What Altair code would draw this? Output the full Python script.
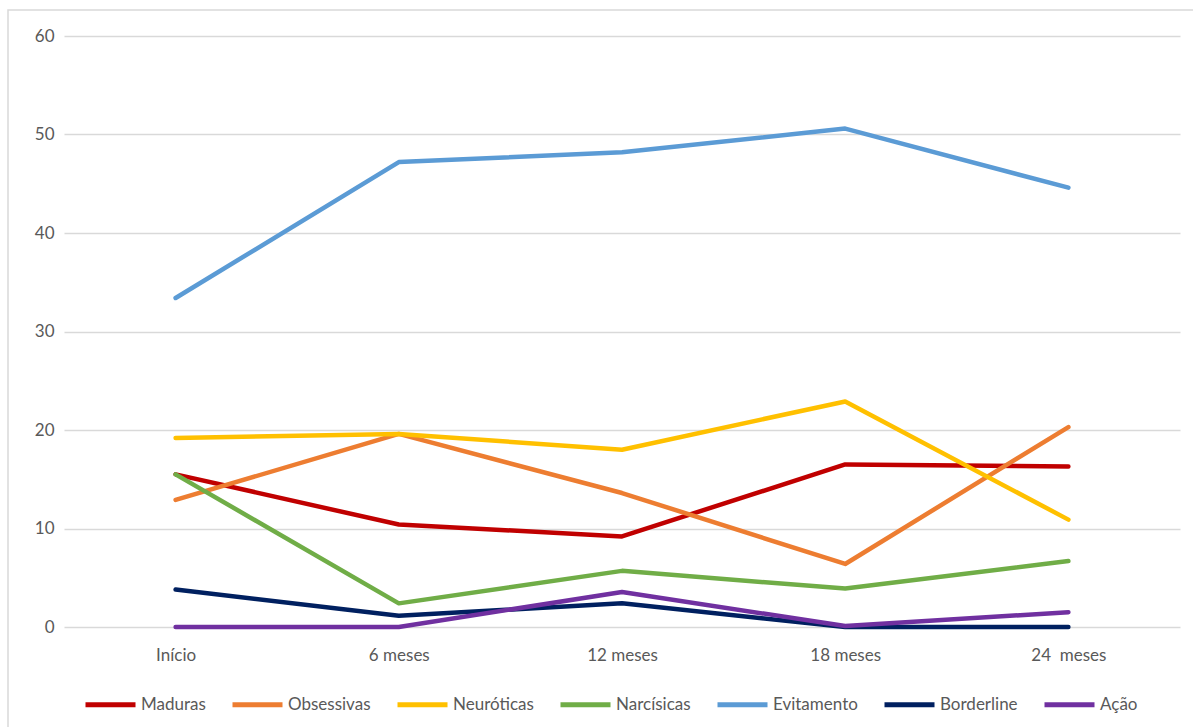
import altair as alt
import pandas as pd

# Time points and mean scores per defence group
periods = ["Início", "6 meses", "12 meses", "18 meses", "24\u00a0 meses"]
maduras = [15.5, 10.4, 9.2, 16.5, 16.3]
obsessivas = [12.9, 19.6, 13.6, 6.4, 20.3]
neuroticas = [19.2, 19.6, 18.0, 22.9, 10.9]
narcisicas = [15.5, 2.4, 5.7, 3.9, 6.7]
evitamento = [33.4, 47.2, 48.2, 50.6, 44.6]
borderline = [3.8, 1.15, 2.4, 0.0, 0.0]
acao = [0.0, 0.0, 3.55, 0.1, 1.5]

series_names = ["Maduras", "Obsessivas", "Neuróticas", "Narcísicas",
                "Evitamento", "Borderline", "Ação"]
series_values = [maduras, obsessivas, neuroticas, narcisicas,
                 evitamento, borderline, acao]
series_colors = ["#C00000", "#ED7D31", "#FFC000", "#70AD47",
                 "#5B9BD5", "#002060", "#7030A0"]

rows = []
for name, vals in zip(series_names, series_values):
    for order, (p, v) in enumerate(zip(periods, vals)):
        rows.append({"grupo": name, "periodo": p, "valor": v, "ordem": order})
df = pd.DataFrame(rows)

FONT = "Lato"
TEXT = "#595959"
W, H = 1116, 591

lines = alt.Chart(df).mark_line(strokeWidth=4.5, strokeCap="round",
                                strokeJoin="round").encode(
    x=alt.X("periodo:O", sort=periods,
            scale=alt.Scale(type="point", padding=0.5),
            axis=alt.Axis(title=None, labelAngle=0, domain=False, ticks=False,
                          labelPadding=20, labelFontSize=17,
                          labelColor=TEXT, labelFont=FONT, grid=False)),
    y=alt.Y("valor:Q", scale=alt.Scale(domain=[0, 60], nice=False),
            axis=alt.Axis(title=None, values=[0, 10, 20, 30, 40, 50, 60],
                          domain=False, ticks=False, labelPadding=10,
                          labelFontSize=17, labelColor=TEXT, labelFont=FONT,
                          gridColor="#D9D9D9", gridWidth=1.5)),
    color=alt.Color("grupo:N", sort=series_names,
                    scale=alt.Scale(domain=series_names, range=series_colors),
                    legend=alt.Legend(title=None, orient="none",
                                      direction="horizontal",
                                      legendX=19, legendY=641,
                                      symbolType="stroke", symbolSize=2500,
                                      symbolStrokeWidth=5, labelOffset=3,
                                      columnPadding=16, labelFontSize=17,
                                      labelColor=TEXT, labelFont=FONT,
                                      padding=0)),
    order="ordem:Q",
)

# Light outer frame around the whole figure
frame = alt.Chart(pd.DataFrame({"k": [0]})).mark_rect(
    fill=None, stroke="#D9D9D9", strokeWidth=1.5
).encode(
    x=alt.value(-56), x2=alt.value(1140),
    y=alt.value(-26), y2=alt.value(720),
)

chart = alt.layer(frame, lines).properties(
    width=W, height=H,
    autosize=alt.AutoSizeParams(type="none"),
    padding={"left": 64, "top": 36, "right": 13, "bottom": 100},
    background="white",
).configure_view(stroke=None)

chart.save("out.html", embed_options={"renderer": "svg", "actions": False})
